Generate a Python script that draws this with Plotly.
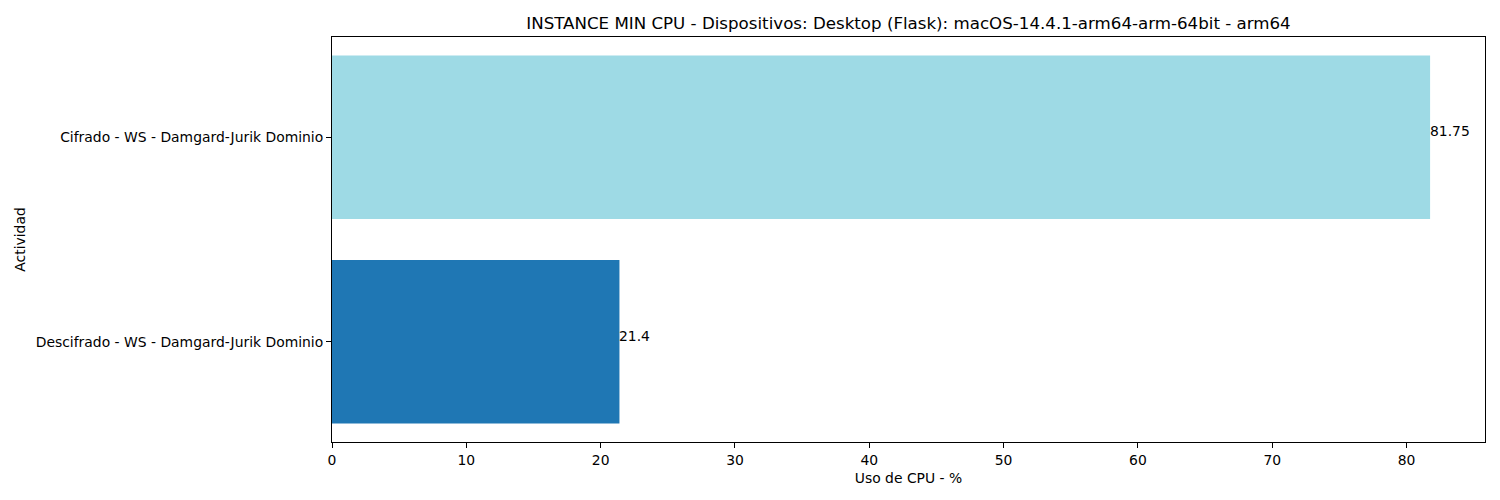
import plotly.graph_objects as go

categories = ["Descifrado - WS - Damgard-Jurik Dominio", "Cifrado - WS - Damgard-Jurik Dominio"]
values = [21.4, 81.75]
labels = ["21.4", "81.75"]
colors = ["#1f77b4", "#9edae5"]
x_ticks = [0, 10, 20, 30, 40, 50, 60, 70, 80]

ypos = list(range(len(categories)))
FS = 13.9

fig = go.Figure()
fig.add_trace(go.Bar(
    x=values, y=ypos, orientation="h", width=0.8,
    marker=dict(color=colors, line=dict(width=0)),
    hoverinfo="skip", showlegend=False,
))

for yv, v, lab in zip(ypos, values, labels):
    fig.add_annotation(x=v, y=yv, text=lab, showarrow=False, xanchor="left",
                       yanchor="bottom", xshift=-2, yshift=-4,
                       font=dict(family="DejaVu Sans", size=FS, color="black"))

axis_common = dict(showline=True, linecolor="black", linewidth=1, mirror=True,
                   ticks="outside", ticklen=5, tickcolor="black", showgrid=False,
                   zeroline=False,
                   tickfont=dict(family="DejaVu Sans", size=FS, color="black"))

fig.update_layout(
    width=1492, height=492,
    margin=dict(l=324, r=15, t=29, b=58),
    plot_bgcolor="white", paper_bgcolor="white",
    title=dict(text="INSTANCE MIN CPU - Dispositivos: Desktop (Flask): macOS-14.4.1-arm64-arm-64bit - arm64",
               x=0.5, xref="paper", xanchor="center", y=1 - 15 / 492, yanchor="middle",
               font=dict(family="DejaVu Sans", size=16.67, color="black")),
    xaxis=dict(range=[0, max(values) * 1.05], tickvals=x_ticks,
               title=dict(text="Uso de CPU - %", standoff=6,
                          font=dict(family="DejaVu Sans", size=FS, color="black")),
               **axis_common),
    yaxis=dict(range=[-0.49, 1.49], tickvals=ypos, ticktext=categories,
               title=dict(text="Actividad", standoff=6,
                          font=dict(family="DejaVu Sans", size=FS, color="black")),
               **axis_common),
)

fig.write_html("out.html")
